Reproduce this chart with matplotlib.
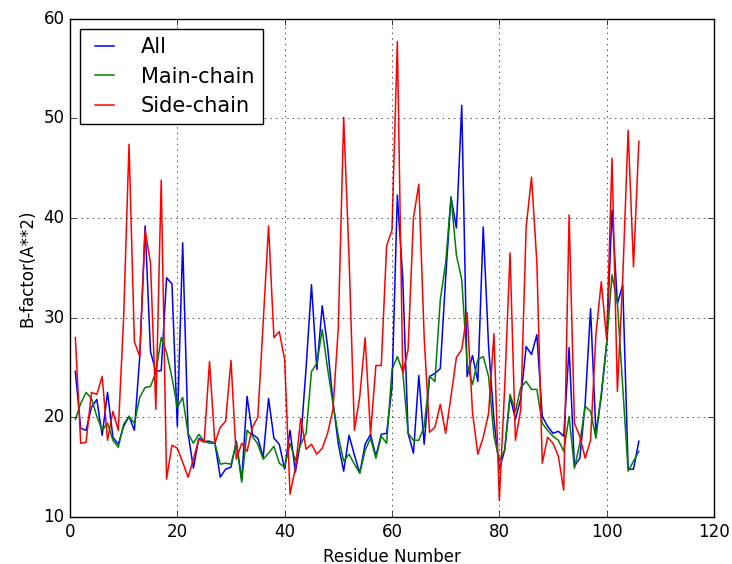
import numpy as np
import matplotlib
matplotlib.use('Agg')
import matplotlib.pyplot as plt

plt.style.use('classic')

# B-factors per residue
residues = np.arange(1, 107)

all_atoms = [24.6, 18.9, 18.7, 21.0, 21.8, 18.2, 22.5, 18.0, 17.3, 19.1,
             20.1, 18.7, 26.1, 39.2, 26.6, 24.6, 24.7, 34.0, 33.4, 19.1,
             37.5, 18.4, 14.9, 17.9, 17.6, 17.6, 17.4, 14.0, 14.8, 15.0,
             17.6, 13.7, 22.1, 18.3, 17.9, 16.0, 21.9, 17.9, 17.3, 14.8,
             18.7, 14.5, 17.7, 25.0, 33.3, 24.8, 31.2, 27.1, 21.6, 17.3,
             14.6, 18.2, 16.2, 14.4, 17.3, 18.3, 16.1, 18.3, 18.4, 23.0,
             42.3, 34.0, 18.4, 16.4, 24.2, 17.3, 24.1, 24.4, 24.9, 34.0,
             42.1, 39.0, 51.3, 24.1, 26.2, 23.6, 39.1, 27.1, 19.8, 14.8,
             16.7, 22.1, 19.8, 21.9, 27.1, 26.3, 28.3, 20.1, 19.1, 18.4,
             18.6, 18.1, 27.0, 15.1, 15.9, 21.4, 30.9, 18.4, 22.1, 27.4,
             40.8, 31.4, 33.3, 14.8, 14.8, 17.6]

main_chain = [19.8, 21.4, 22.5, 21.9, 20.1, 18.7, 19.4, 17.7, 17.0, 19.3,
              20.1, 19.4, 22.0, 23.0, 23.1, 24.5, 28.0, 26.5, 24.0, 21.0,
              22.0, 18.4, 17.4, 18.3, 17.6, 17.4, 17.4, 15.3, 15.4, 15.3,
              17.4, 13.5, 18.7, 18.1, 17.3, 15.8, 16.4, 17.1, 15.4, 15.0,
              17.4, 15.7, 17.3, 18.4, 24.6, 25.4, 28.8, 24.9, 21.4, 18.1,
              15.6, 16.3, 15.3, 14.4, 16.7, 17.9, 15.9, 18.1, 17.4, 24.8,
              26.1, 24.6, 18.4, 17.7, 17.7, 19.1, 24.1, 23.6, 31.8, 35.5,
              42.1, 36.3, 33.8, 25.4, 23.3, 25.8, 26.1, 24.1, 18.1, 15.7,
              16.7, 22.3, 20.6, 23.0, 23.6, 22.8, 22.8, 19.4, 18.7, 18.1,
              17.7, 16.6, 20.1, 14.9, 17.4, 21.1, 20.6, 17.9, 22.4, 27.4,
              34.3, 31.5, 23.0, 14.6, 15.6, 16.6]

side_chain = [28.0, 17.4, 17.5, 22.5, 22.3, 24.1, 17.7, 20.6, 18.7, 30.0,
              47.4, 27.6, 26.1, 38.8, 35.5, 20.8, 43.8, 13.8, 17.2, 16.9,
              15.5, 14.0, 15.8, 17.8, 17.5, 25.6, 17.4, 19.0, 19.6, 25.7,
              15.8, 17.4, 16.6, 19.0, 20.0, 29.5, 39.2, 28.0, 28.6, 25.8,
              12.3, 14.9, 19.9, 16.8, 17.3, 16.3, 16.9, 18.4, 20.8, 29.0,
              50.1, 36.0, 18.7, 22.1, 28.0, 18.3, 25.2, 25.2, 37.2, 38.8,
              57.7, 24.4, 26.8, 40.0, 43.4, 28.0, 18.5, 19.0, 21.3, 18.4,
              22.1, 26.0, 26.8, 30.5, 20.5, 16.3, 18.0, 20.4, 28.4, 11.7,
              23.0, 36.5, 17.7, 20.8, 39.1, 44.1, 35.5, 15.4, 18.0, 17.4,
              16.1, 12.7, 40.3, 19.4, 18.1, 15.9, 17.7, 28.3, 33.6, 27.8,
              46.0, 22.6, 34.0, 48.8, 35.1, 47.7]

fig = plt.figure(figsize=(7.32, 5.64), dpi=100, facecolor='white')
ax = fig.add_axes([0.0956, 0.0833, 0.8798, 0.8837])

ax.plot(residues, all_atoms, 'b-', lw=1.1, label='All')
ax.plot(residues, main_chain, 'g-', lw=1.1, label='Main-chain')
ax.plot(residues, side_chain, 'r-', lw=1.1, label='Side-chain')

ax.set_xlim(0, 120)
ax.set_ylim(10, 60)
ax.set_xlabel('Residue Number')
ax.set_ylabel('B-factor(A**2)')
ax.grid(True)
ax.legend(loc='upper left', fontsize=15, handlelength=1.5,
          handletextpad=1.0, labelspacing=0.45)

fig.savefig('out.png', dpi=100, facecolor='white')
